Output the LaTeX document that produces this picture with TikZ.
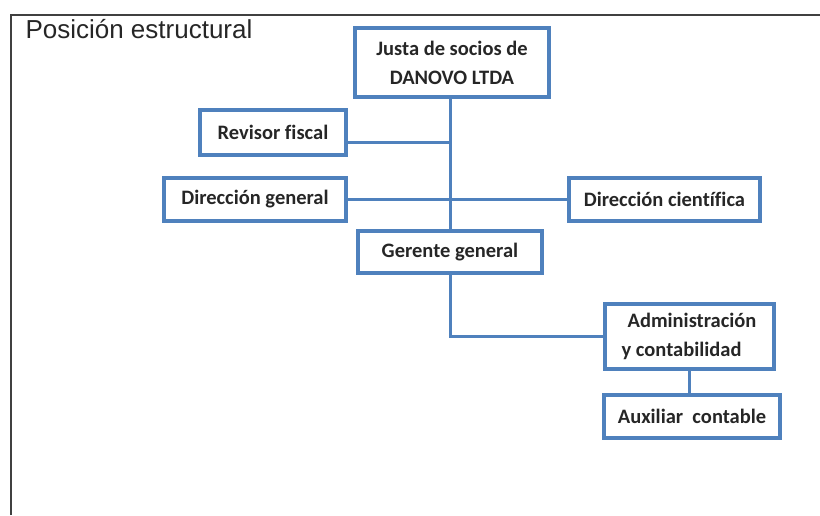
\documentclass[tikz,border=0pt]{standalone}
\usepackage{fontspec}
\setmainfont{Carlito}[Ligatures=CommonOff]
\newfontfamily\titlefont{Liberation Sans}
\usetikzlibrary{positioning}
\definecolor{cajaazul}{RGB}{79,129,189}
\tikzset{caja/.style={draw=cajaazul, line width=4pt, rectangle, align=center,
    font=\fontsize{20.5}{29}\selectfont\bfseries, text=black!85},
linea/.style={draw=cajaazul, line width=3pt}
}

\begin{document}
\begin{tikzpicture}[x=1pt, y=-1pt]
       \useasboundingbox (0,0) rectangle (820,515);
       \draw[line width=2pt, black!75] (11,515) -- (11,15) -- (820,15);
       \node[anchor=base west, font=\titlefont\fontsize{26}{30}\selectfont, text=black!85] (titulo) at (22,38) {Posición estructural};

       \node[caja, minimum width=194, minimum height=69] (junta) at (452,62.5) {Justa de socios de\\DANOVO LTDA};
       \node[caja, minimum width=146, minimum height=45] (revisor) at (273,132.5) {Revisor fiscal};
       \node[caja, minimum width=182, minimum height=43] (dirgen) at (255,199) {Dirección general};
       \node[caja, minimum width=191, minimum height=43] (dircie) at (664.5,199) {Dirección científica};
       \node[caja, minimum width=184, minimum height=42] (gerente) at (450,252) {Gerente general};
       \node[caja, minimum width=169, minimum height=65, align=left] (admin) at (689,336) {\hspace{6pt}Administración\\y contabilidad};
       \node[caja, minimum width=176, minimum height=43] (auxiliar) at (692,416.5) {Auxiliar\ \ contable};

       \path[linea] (junta.south -| gerente.north) -- (gerente.north)
           ([yshift=-10pt]revisor.east) -- ([yshift=-10pt]revisor.east -| gerente.north)
           (dirgen.east) -- (dircie.west)
           (gerente.south) |- (admin.west)
           (admin.south) -- (admin.south |- auxiliar.north);
\end{tikzpicture}
\end{document}
